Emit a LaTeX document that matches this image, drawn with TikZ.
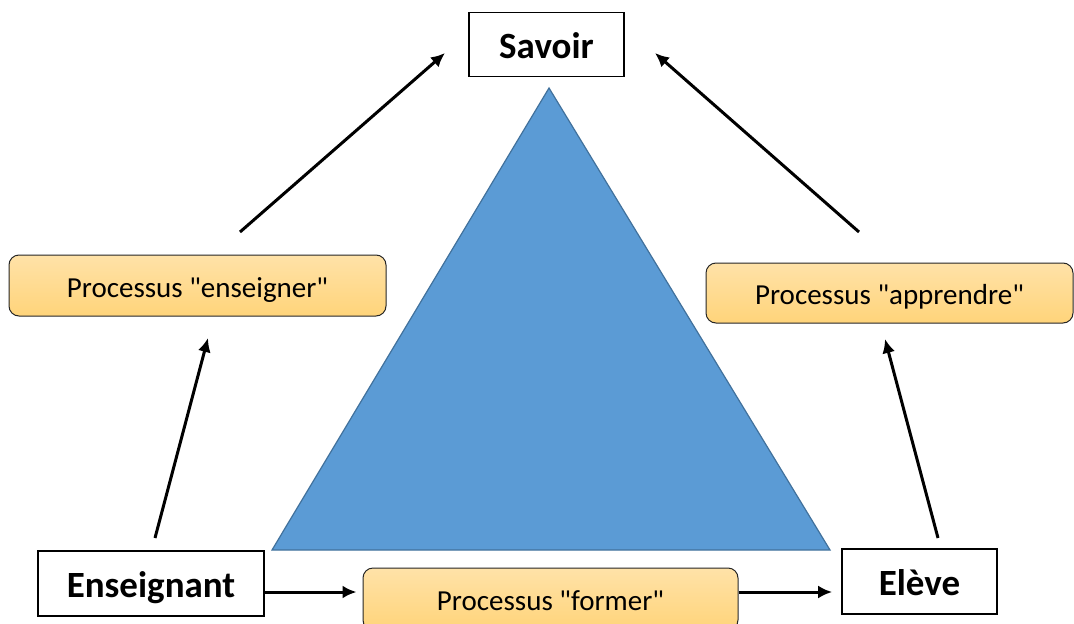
\documentclass[tikz,border=0pt]{standalone}
\usepackage{fontspec}
\setmainfont{Carlito}
\newfontfamily\procfont{Carlito}
\usetikzlibrary{arrows.meta}
\definecolor{triblue}{RGB}{91,155,213}
\definecolor{triedge}{RGB}{65,113,156}
\definecolor{orangetop}{RGB}{255,226,168}
\definecolor{orangebot}{RGB}{255,212,122}
\begin{document}
\begin{tikzpicture}[x=1pt,y=-1pt,
  actor/.style={draw=black,line width=1.7pt,fill=white,inner sep=0pt,
    font=\fontsize{37}{44}\selectfont\bfseries,text height=28.8pt,text depth=0pt},
  procbox/.style={draw=black!85,line width=1pt,rounded corners=10pt,inner sep=0pt,
    top color=orangetop,bottom color=orangebot,
    font=\procfont\fontsize{29}{35}\selectfont,text height=23.6pt,text depth=0pt},
  conn/.style={line width=3pt,-{Latex[length=14pt,width=13pt]}}
]
\useasboundingbox (0,0) rectangle (1074,624);
\begin{scope}
\clip (0,0) rectangle (1074,624);
% triangle
\draw[fill=triblue,draw=triedge,line width=1.2pt] (549,88) -- (830,550) -- (272,550) -- cycle;

% nodes
\node[actor,minimum width=155pt,minimum height=64pt] (savoir) at (546.5,44.5) {Savoir};
\node[actor,minimum width=226pt,minimum height=65pt] (ens) at (151,583.5) {Enseignant};
\node[actor,minimum width=155pt,minimum height=65pt] (eleve) at (919.5,581.5) {Elève};

\node[procbox,minimum width=377pt,minimum height=61pt] (pens) at (197.5,285.5) {Processus "enseigner"};
\node[procbox,minimum width=367pt,minimum height=60pt] (papp) at (889.5,293) {Processus "apprendre"};
\node[procbox,minimum width=375pt,minimum height=62pt] (pfor) at (550.5,599) {Processus "former"};

% connector end points
\coordinate (a1s) at (240,232);
\coordinate (a1e) at (445,53);
\coordinate (a2s) at (859,232);
\coordinate (a2e) at (655,53);
\coordinate (a3s) at (155,538);
\coordinate (a3e) at (208,338);
\coordinate (a4s) at (938,538);
\coordinate (a4e) at (885,339);

\draw[conn] (a1s) -- (a1e);
\draw[conn] (a2s) -- (a2e);
\draw[conn] (a3s) -- (a3e);
\draw[conn] (a4s) -- (a4e);
\draw[conn] (ens.east |- 0,592) -- ([xshift=-6pt]pfor.west |- 0,592);
\draw[conn] (pfor.east |- 0,592) -- ([xshift=-9pt]eleve.west |- 0,592);
\end{scope}
\end{tikzpicture}
\end{document}
